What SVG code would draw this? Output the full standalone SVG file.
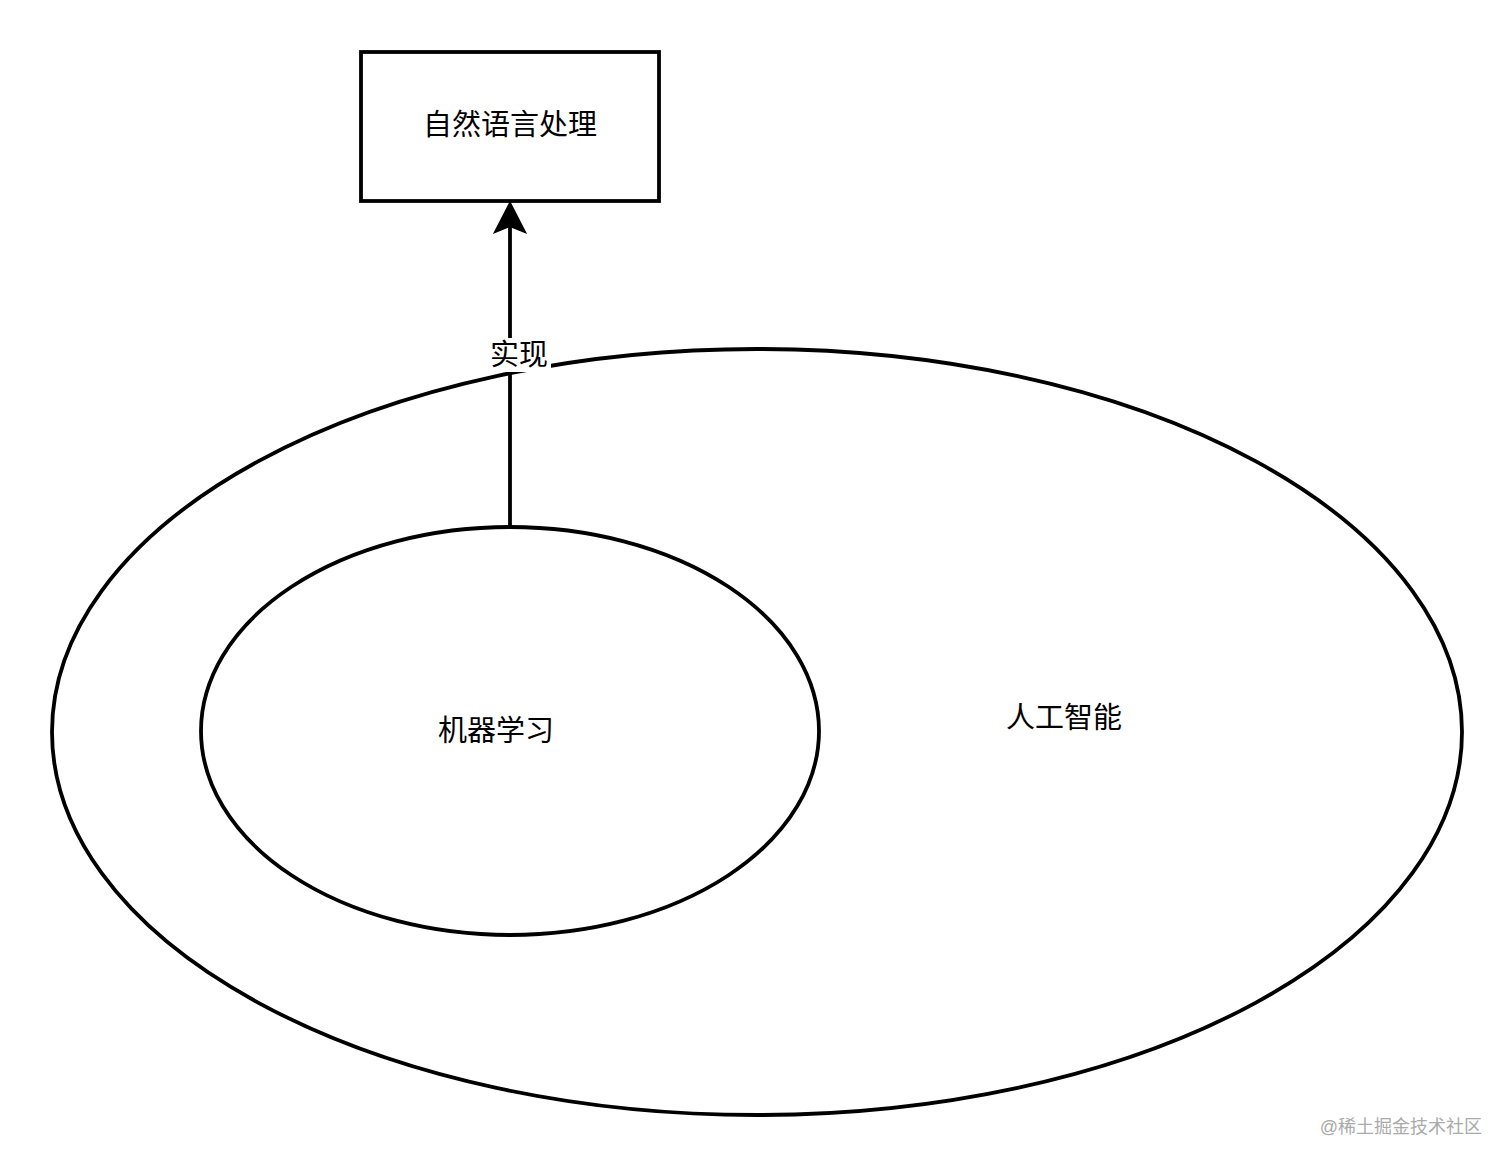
<svg xmlns="http://www.w3.org/2000/svg" width="1512" height="1166" viewBox="0 0 1512 1166">
<style>
.shape{fill:#fff;stroke:#000;stroke-width:3.8}
.t{font-family:"Liberation Sans","Noto Sans CJK SC",sans-serif;font-size:29px;fill:#000;text-anchor:middle;dominant-baseline:central}
.wm{font-family:"Liberation Sans","Noto Sans CJK SC",sans-serif;font-size:18px;fill:#aaaaaa;text-anchor:end;dominant-baseline:central}
</style>
<rect width="1512" height="1166" fill="#fff"/>
<g id="ai">
<ellipse class="shape" cx="757" cy="732" rx="705" ry="383"/>
<text class="t" x="1064" y="718">人工智能</text>
</g>
<g id="ml">
<ellipse class="shape" cx="510" cy="731" rx="309" ry="204"/>
<text class="t" x="496" y="731">机器学习</text>
</g>
<g id="nlp">
<rect class="shape" x="361" y="52" width="298" height="149"/>
<text class="t" x="510" y="125">自然语言处理</text>
</g>
<g id="connectors">
<line x1="510" y1="527" x2="510" y2="222" stroke="#000" stroke-width="3.8"/>
<path d="M510 203 L525 232 L510 226 L495 232 Z" fill="#000" stroke="#000" stroke-width="2" stroke-linejoin="miter"/>
<rect x="487" y="338" width="64" height="34" fill="#fff"/>
<text class="t" x="519" y="355">实现</text>
</g>
<text class="wm" x="1482" y="1127">@稀土掘金技术社区</text>
</svg>
